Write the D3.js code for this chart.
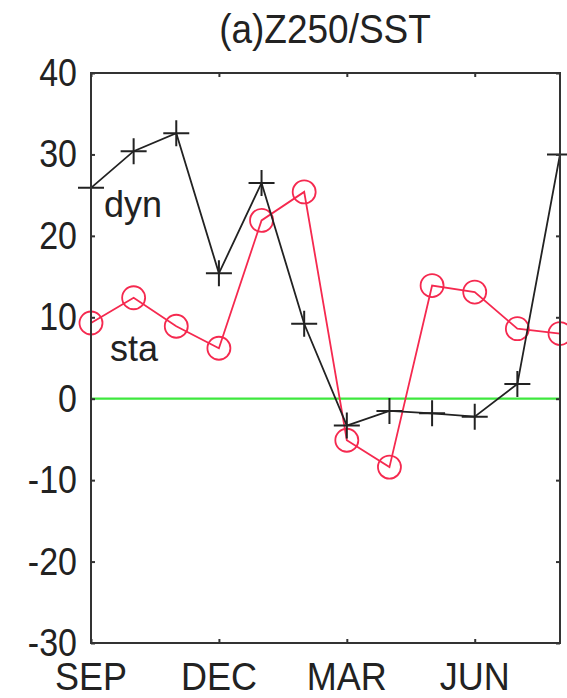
<!DOCTYPE html>
<html>
<head>
<meta charset="utf-8">
<script src="https://cdn.jsdelivr.net/npm/d3@7"></script>
<style>
  body { margin: 0; background: #fff; }
  text { font-family: "Liberation Sans", Arial, sans-serif; fill: #222; }
</style>
</head>
<body>
<svg id="chart"></svg>
<script>
const months = ["SEP","OCT","NOV","DEC","JAN","FEB","MAR","APR","MAY","JUN","JUL","AUG"];
const dyn = [25.9, 30.4, 32.6, 15.4, 26.5, 9.2, -3.3, -1.5, -1.8, -2.2, 1.8, 30.0];
const sta = [9.3, 12.4, 8.9, 6.2, 21.9, 25.4, -5.1, -8.4, 13.9, 13.1, 8.6, 8.0];
const yTicks = [-30, -20, -10, 0, 10, 20, 30, 40];
const xTickLabels = ["SEP", "DEC", "MAR", "JUN"];

const W = 567, H = 698;
const svg = d3.select("#chart").attr("width", W).attr("height", H);

const x = d3.scalePoint().domain(months).range([91, 560]);
const y = d3.scaleLinear().domain([-30, 40]).range([643, 73]);

// zero line
svg.append("line")
    .attr("x1", x.range()[0]).attr("x2", x.range()[1])
    .attr("y1", y(0)).attr("y2", y(0))
    .attr("stroke", "#3ee83e").attr("stroke-width", 2.2);

// sta series
const line = d3.line().x((d, i) => x(months[i])).y(d => y(d));
svg.append("path").datum(sta)
    .attr("d", line).attr("fill", "none")
    .attr("stroke", "#f5294f").attr("stroke-width", 1.8);
svg.selectAll(".sta").data(sta).join("circle")
    .attr("cx", (d, i) => x(months[i])).attr("cy", d => y(d))
    .attr("r", 11.5).attr("fill", "none")
    .attr("stroke", "#f5294f").attr("stroke-width", 1.8);

// dyn series
svg.append("path").datum(dyn)
    .attr("d", line).attr("fill", "none")
    .attr("stroke", "#222").attr("stroke-width", 1.8);
svg.selectAll(".dyn").data(dyn).join("path")
    .attr("transform", (d, i) => "translate(" + x(months[i]) + "," + y(d) + ")")
    .attr("d", "M-13,0H13M0,-13V13")
    .attr("stroke", "#222").attr("stroke-width", 2);

// frame
svg.append("rect")
    .attr("x", 91).attr("y", 73).attr("width", 560 - 91).attr("height", 643 - 73)
    .attr("fill", "none").attr("stroke", "#333").attr("stroke-width", 2);

// y axis ticks and labels
const yAxisL = d3.axisLeft(y).tickValues(yTicks).tickSize(-4).tickFormat("");
const yAxisR = d3.axisRight(y).tickValues(yTicks).tickSize(-4).tickFormat("");
svg.append("g").attr("transform", "translate(91,0)").call(yAxisL)
    .call(g => g.select(".domain").remove())
    .selectAll("line").attr("stroke", "#333").attr("stroke-width", 2);
svg.append("g").attr("transform", "translate(560,0)").call(yAxisR)
    .call(g => g.select(".domain").remove())
    .selectAll("line").attr("stroke", "#333").attr("stroke-width", 2);

svg.selectAll(".ylab").data(yTicks).join("text")
    .attr("text-anchor", "end")
    .attr("transform", d => "translate(77," + (y(d) + 13) + ") scale(1,1.12)")
    .style("font-size", "34px")
    .text(d => d);

// x axis ticks and labels
const xAxisB = d3.axisBottom(x).tickValues(xTickLabels).tickSize(-4).tickFormat("");
const xAxisT = d3.axisTop(x).tickValues(xTickLabels).tickSize(-4).tickFormat("");
svg.append("g").attr("transform", "translate(0,643)").call(xAxisB)
    .call(g => g.select(".domain").remove())
    .selectAll("line").attr("stroke", "#333").attr("stroke-width", 2);
svg.append("g").attr("transform", "translate(0,73)").call(xAxisT)
    .call(g => g.select(".domain").remove())
    .selectAll("line").attr("stroke", "#333").attr("stroke-width", 2);

svg.selectAll(".xlab").data(xTickLabels).join("text")
    .attr("text-anchor", "middle")
    .attr("transform", d => "translate(" + x(d) + ",690) scale(1,1.08)")
    .style("font-size", "36px")
    .text(d => d);

// title
svg.append("text")
    .attr("text-anchor", "middle")
    .attr("transform", "translate(325,43) scale(1,1.08)")
    .style("font-size", "37px")
    .text("(a)Z250/SST");

// series labels
svg.append("text").attr("x", 104).attr("y", 217).style("font-size", "36px").text("dyn");
svg.append("text").attr("x", 110).attr("y", 361).style("font-size", "36px").text("sta");
</script>
</body>
</html>
